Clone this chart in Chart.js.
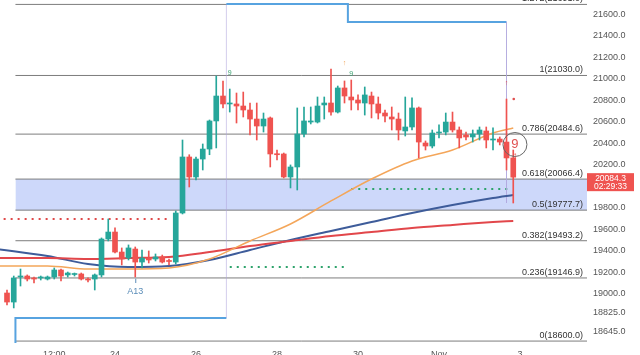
<!DOCTYPE html>
<html><head><meta charset="utf-8">
<script src="https://cdn.jsdelivr.net/npm/chart.js@4.4.1/dist/chart.umd.min.js"></script>
<style>html,body{margin:0;padding:0;background:#fff}#wrap{width:640px;height:355px;position:relative}</style>
</head><body><div id="wrap"><canvas id="c"></canvas></div>
<script>
// time axis: hours from 24 Oct 00:00, 4h candles
const candleTimes = [-64,-60,-56,-52,-48,-44,-40,-36,-32,-28,-24,-20,-16,-12,-8,-4,0,4,8,12,16,20,24,28,32,36,40,44,48,52,56,60,64,68,72,76,80,84,88,92,96,100,104,108,112,116,120,124,128,132,136,140,144,148,152,156,160,164,168,172,176,180,184,188,192,196,200,204,208,212,216,220,224,228,232,236];
const opens = [19007,18923,19156,19165,19147,19147,19137,19156,19221,19175,19179,19184,19137,19137,19175,19509,19574,19388,19332,19416,19295,19332,19323,19342,19305,19295,19751,20272,20086,20253,20346,20607,20839,20765,20765,20746,20709,20625,20560,20635,20300,20300,20086,20179,20486,20597,20597,20756,20774,20690,20914,20830,20802,20774,20839,20765,20681,20644,20625,20514,20551,20728,20402,20374,20495,20504,20597,20523,20477,20458,20486,20514,20430,20439,20411,20263];
const highs = [19035,19165,19230,19175,19156,19165,19165,19240,19230,19202,19193,19193,19147,19184,19519,19695,19612,19426,19454,19435,19407,19398,19370,19360,19323,19770,20430,20293,20272,20393,20616,21025,20979,20904,20867,20876,20774,20774,20681,20644,20337,20309,20198,20728,20737,20737,20830,20830,21090,20932,20979,20988,20849,20923,20876,20830,20709,20737,20681,20830,20821,20737,20421,20523,20570,20681,20690,20551,20504,20523,20551,20551,20542,20458,20811,20337];
const lows = [18896,18868,19072,19119,19100,19128,19128,19137,19119,19156,19165,19128,19109,19035,19156,19491,19379,19268,19314,19156,19240,19286,19305,19286,19268,19277,19742,19993,20058,20151,20293,20356,20728,20690,20588,20644,20477,20430,20504,20179,20244,20077,19984,19965,20458,20579,20588,20625,20662,20681,20774,20709,20709,20662,20635,20625,20597,20523,20430,20467,20523,20263,20337,20356,20449,20477,20504,20356,20430,20411,20430,20356,20337,20384,20151,19844];
const closes = [18923,19147,19165,19137,19137,19149,19156,19221,19165,19193,19184,19137,19128,19175,19509,19574,19388,19323,19426,19295,19332,19314,19342,19295,19300,19751,20272,20086,20253,20346,20607,20839,20765,20769,20746,20709,20625,20560,20625,20300,20293,20086,20179,20486,20607,20607,20746,20774,20690,20914,20839,20802,20774,20849,20765,20681,20653,20625,20523,20551,20728,20411,20374,20495,20504,20597,20523,20449,20458,20486,20523,20430,20435,20411,20263,20084.3];

// moving averages (sampled)
const maTimes = [-70,-40,-16,8,32,56,80,104,128,152,176,200,224,236];
const maOrange = [19258,19258,19230,19230,19240,19323,19491,19649,19863,20067,20235,20337,20495,20542];
const maBlue = [19416,19351,19277,19249,19258,19314,19407,19500,19584,19667,19751,19826,19891,19919];
const maRed = [19332,19332,19323,19332,19342,19388,19444,19491,19537,19574,19612,19640,19667,19677];

// stepped light-blue line
const stepTimes = [-59,-59,66,66,138,138,232,232];
const stepValues = [18542,18775,18775,21695,21695,21527,21527,19844];

// dotted levels
const redDotTimes = [-66,32];   const redDotValue = 19695;
const greenDot1Times = [68,136]; const greenDot1Value = 19249;
const greenDot2Times = [140,235]; const greenDot2Value = 19974;

// fibonacci levels
const fibRatios = ['1.272','1','0.786','0.618','0.5','0.382','0.236','0'];
const fibPrices = [21691.0,21030.0,20484.6,20066.4,19777.7,19493.2,19146.9,18600.0];
const fibDrawValues = [21691,21030,20484.6,20066.4,19777.7,19493.2,19146.9,18560];
const fibStart = -59;

// axes
const yTickValues = [21600,21400,21200,21000,20800,20600,20400,20200,19800,19600,19400,19200,19000,18825,18645];
const xTickValues = [-36,0,48,96,144,192,240];
const xTickLabels = ['12:00','24','26','28','30','Nov','3'];
const xMin = -68.15, xMax = 279.7, yMin = 18542, yMax = 21732;

const lastPrice = 20084.3, lastTimer = '02:29:33';

const UP = '#26a69a', DOWN = '#ef5350';
const colors = opens.map((o,i)=> closes[i] >= o ? UP : DOWN);

const datasets = [];
datasets.push({type:'bar', data: candleTimes.map((t,i)=>({x:t, y:[lows[i], highs[i]]})),
  backgroundColor: colors, barThickness:1, grouped:false, order:1});
datasets.push({type:'bar', data: candleTimes.map((t,i)=>({x:t, y:[opens[i], closes[i]]})),
  backgroundColor: colors, barThickness:5, minBarLength:1, grouped:false, order:0});

function line(xs, ys, color, width, extra){
  return Object.assign({type:'line', data: xs.map((x,i)=>({x:x, y:ys[i]})), borderColor: color,
    borderWidth: width, pointRadius:0, fill:false, tension:0}, extra||{});
}
datasets.push(line(maTimes, maOrange, '#f4a65a', 1.5, {cubicInterpolationMode:'monotone', order:3}));
datasets.push(line(maTimes, maRed, '#e2474b', 2, {cubicInterpolationMode:'monotone', order:3}));
datasets.push(line(maTimes, maBlue, '#3e5c9a', 2, {cubicInterpolationMode:'monotone', order:3}));

datasets.push(line(stepTimes, stepValues, '#4f9fe0', 2, {order:4, segment:{
  borderColor: c => Math.abs(c.p0.parsed.y - c.p1.parsed.y) > 500 ? 'rgba(175,165,220,0.55)' : '#57a3e0',
  borderWidth: c => Math.abs(c.p0.parsed.y - c.p1.parsed.y) > 500 ? 1 : 2 }}));

datasets.push(line(redDotTimes, [redDotValue, redDotValue], '#e04848', 2, {borderDash:[2,5], order:4}));
datasets.push(line(greenDot1Times, [greenDot1Value, greenDot1Value], '#2ea36b', 2, {borderDash:[2,5], order:4}));
datasets.push(line(greenDot2Times, [greenDot2Value, greenDot2Value], '#2ea36b', 2, {borderDash:[2,5], order:4}));

const fibBase = datasets.length;
fibDrawValues.forEach((v,i)=>{
  const ds = line([fibStart, xMax], [v, v], '#7d7d7d', 1, {order:6});
  if (fibRatios[i] === '0.5') {
    ds.fill = {target: fibBase + fibRatios.indexOf('0.618')};
    ds.backgroundColor = 'rgba(90,125,240,0.3)';
  }
  datasets.push(ds);
});

const annot = {
  id:'annot',
  afterDatasetsDraw(chart){
    const {ctx, chartArea, scales:{x, y}} = chart;
    ctx.save();
    // fib labels
    ctx.font = '9px "Liberation Sans", Arial, sans-serif';
    ctx.fillStyle = '#333';
    ctx.textAlign = 'right'; ctx.textBaseline = 'alphabetic';
    fibRatios.forEach((r,i)=>{
      const py = y.getPixelForValue(fibDrawValues[i]);
      ctx.fillText(r + '(' + fibPrices[i].toFixed(1) + ')', chartArea.right - 4, py - 3);
    });
    // A13 label
    const ax = x.getPixelForValue(12);
    ctx.strokeStyle = '#5b8db8'; ctx.lineWidth = 1;
    ctx.beginPath(); ctx.moveTo(ax+0.5, y.getPixelForValue(19140)); ctx.lineTo(ax+0.5, y.getPixelForValue(19100)); ctx.stroke();
    ctx.fillStyle = '#5b8db8'; ctx.textAlign = 'center'; ctx.textBaseline = 'middle';
    ctx.fillText('A13', ax, y.getPixelForValue(19025));
    // small green 9s
    ctx.font = '7px "Liberation Sans", Arial, sans-serif';
    ctx.fillStyle = '#3aa070';
    [[68, 21050],[140, 21040]].forEach(p=>ctx.fillText('9', x.getPixelForValue(p[0]), y.getPixelForValue(p[1])));
    ctx.fillStyle = '#f0a050';
    ctx.fillText('↑', x.getPixelForValue(136), y.getPixelForValue(21150));
    ctx.fillStyle = '#e05050';
    ctx.fillText('↑', x.getPixelForValue(232), y.getPixelForValue(20960));
    ctx.beginPath(); ctx.arc(x.getPixelForValue(236)+0.5, y.getPixelForValue(20811), 1.3, 0, Math.PI*2); ctx.fill();
    // circle with 9
    const cx = x.getPixelForValue(237), cy = y.getPixelForValue(20388);
    ctx.strokeStyle = '#666'; ctx.lineWidth = 1;
    ctx.beginPath(); ctx.arc(cx, cy, 12, 0, Math.PI*2); ctx.stroke();
    ctx.fillStyle = '#e05050';
    ctx.font = '13px "Liberation Sans", Arial, sans-serif';
    ctx.fillText('9', cx, cy);
    ctx.font = '8px "Liberation Sans", Arial, sans-serif';
    ctx.fillText('↕', cx, cy + 11);
    ctx.restore();
  },
  afterDraw(chart){
    const {ctx, chartArea, scales:{y}} = chart;
    ctx.save();
    const py = y.getPixelForValue(lastPrice);
    ctx.fillStyle = '#ef5350';
    ctx.fillRect(chartArea.right, py - 4, 47, 18);
    ctx.fillStyle = '#fff';
    ctx.font = '8.5px "Liberation Sans", Arial, sans-serif';
    ctx.textAlign = 'center'; ctx.textBaseline = 'middle';
    ctx.fillText(lastPrice.toFixed(1), chartArea.right + 23.5, py + 1);
    ctx.fillText(lastTimer, chartArea.right + 23.5, py + 9);
    ctx.restore();
  }
};

new Chart(document.getElementById('c'), {
  type:'bar',
  data:{datasets},
  options:{
    responsive:true, maintainAspectRatio:false, animation:false, devicePixelRatio:1,
    layout:{padding:0},
    plugins:{legend:{display:false}, tooltip:{enabled:false}},
    scales:{
      x:{type:'linear', min:xMin, max:xMax, offset:false,
        grid:{display:false, drawTicks:false}, border:{display:false},
        afterBuildTicks: s => { s.ticks = xTickValues.map(v=>({value:v})); },
        afterFit: s => { s.height = 12; s.paddingLeft = 0; s.paddingRight = 0; },
        ticks:{padding:6, maxRotation:0, autoSkip:false, color:'#555',
          font:{size:9, family:'"Liberation Sans", Arial, sans-serif'},
          callback: v => { const i = xTickValues.indexOf(v); return i >= 0 ? xTickLabels[i] : ''; }}
      },
      y:{type:'linear', position:'right', min:yMin, max:yMax, beginAtZero:false,
        grid:{display:false, drawTicks:false}, border:{display:false},
        afterBuildTicks: s => { s.ticks = yTickValues.map(v=>({value:v})); },
        afterFit: s => { s.width = 53; s.paddingTop = 0; s.paddingBottom = 0; },
        ticks:{padding:6, autoSkip:false, color:'#555',
          font:{size:9, family:'"Liberation Sans", Arial, sans-serif'},
          callback: v => Number(v).toFixed(1)}
      }
    }
  },
  plugins:[annot]
});
</script></body></html>
